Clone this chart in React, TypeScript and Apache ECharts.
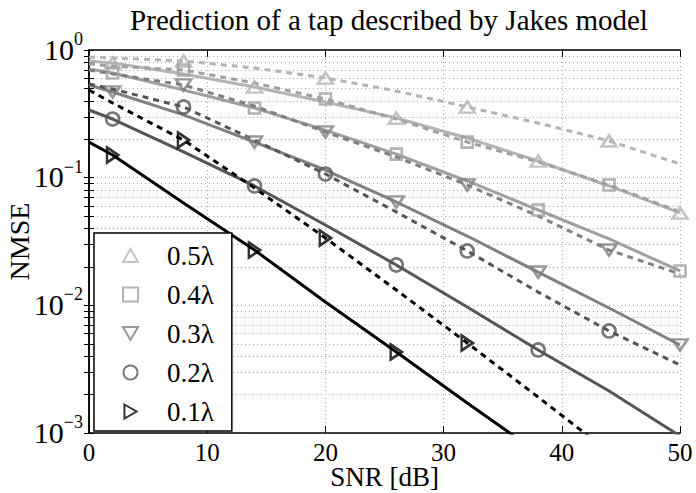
import React, { useEffect, useRef } from 'react';
import * as echarts from 'echarts';

// ---- data ----
const snr = [0, 2, 8, 14, 20, 26, 32, 38, 44, 50];
const solidMarkerSnr = [2, 14, 26, 38, 50];
const dashedMarkerSnr = [8, 20, 32, 44];

const seriesNames = ['0.5λ', '0.4λ', '0.3λ', '0.2λ', '0.1λ'];

const solid05 = [0.82, 0.791, 0.649, 0.513, 0.391, 0.293, 0.2045, 0.135, 0.0861, 0.0529];
const dashed05 = [0.882, 0.866, 0.82, 0.723, 0.604, 0.477, 0.358, 0.268, 0.194, 0.128];
const solid04 = [0.71, 0.66, 0.486, 0.351, 0.236, 0.153, 0.0942, 0.0558, 0.0331, 0.0186];
const dashed04 = [0.777, 0.749, 0.697, 0.551, 0.413, 0.288, 0.19, 0.1327, 0.0876, 0.0539];
const solid03 = [0.532, 0.469, 0.31, 0.19, 0.1148, 0.0645, 0.0349, 0.0182, 0.00953, 0.00489];
const dashed03 = [0.697, 0.649, 0.532, 0.364, 0.228, 0.145, 0.0876, 0.0501, 0.0271, 0.0176];
const solid02 = [0.339, 0.288, 0.159, 0.0861, 0.0426, 0.0207, 0.00971, 0.00447, 0.00213, 0.000948];
const dashed02 = [0.542, 0.495, 0.358, 0.197, 0.1068, 0.0539, 0.0267, 0.0127, 0.0063, 0.00341];
const solid01 = [0.19, 0.1505, 0.0633, 0.0271, 0.01062, 0.00431, 0.00172, 0.000697];
const dashed01 = [0.486, 0.3845, 0.197, 0.083, 0.0337, 0.01319, 0.00507, 0.00191, 0.00071];

const xTickValues = [0, 10, 20, 30, 40, 50];
const yLabelValues = [0.001, 0.01, 0.1, 1];
const yTickValues = [
  0.001, 0.002, 0.003, 0.004, 0.005, 0.006, 0.007, 0.008, 0.009,
  0.01, 0.02, 0.03, 0.04, 0.05, 0.06, 0.07, 0.08, 0.09,
  0.1, 0.2, 0.3, 0.4, 0.5, 0.6, 0.7, 0.8, 0.9, 1,
];

// ---- styles ----
const FONT = '"Liberation Serif", "DejaVu Serif", serif';
const colors = ['#b4b4b4', '#a0a0a0', '#808080', '#555555', '#000000'];
const TRI_UP = 'path://M0,13L7.5,0L15,13Z';
const TRI_DOWN = 'path://M0,0L15,0L7.5,13Z';
const TRI_RIGHT = 'path://M0,0L13,7.5L0,15Z';
const symbols = [TRI_UP, 'rect', TRI_DOWN, 'circle', TRI_RIGHT];
const sizes: any[] = [[15, 13], 11, [15, 13], 13, [13, 15]];

const groups = [
  { solid: solid05, dashed: dashed05 },
  { solid: solid04, dashed: dashed04 },
  { solid: solid03, dashed: dashed03 },
  { solid: solid02, dashed: dashed02 },
  { solid: solid01, dashed: dashed01 },
];

const Y_MIN = 0.001;
const Y_MAX = 1;

function buildOption() {
  const series: any[] = [];
  groups.forEach((g, i) => {
    series.push({
      type: 'line',
      name: seriesNames[i] + ' (a)',
      data: g.solid.map((v, k) => [snr[k], v]),
      symbol: 'none',
      showSymbol: false,
      silent: true,
      color: colors[i],
      lineStyle: { color: colors[i], width: 3, type: 'solid' },
      z: 2,
    });
    series.push({
      type: 'line',
      name: seriesNames[i] + ' (b)',
      data: g.dashed.map((v, k) => [snr[k], v]),
      symbol: 'none',
      showSymbol: false,
      silent: true,
      color: colors[i],
      lineStyle: { color: colors[i], width: 3, type: [6, 5], cap: 'butt' },
      z: 2,
    });
  });
  groups.forEach((g, i) => {
    const pts: number[][] = [];
    solidMarkerSnr.forEach((x) => {
      const k = snr.indexOf(x);
      const v = g.solid[k];
      if (v !== undefined && v >= Y_MIN) pts.push([x, v]);
    });
    dashedMarkerSnr.forEach((x) => {
      const k = snr.indexOf(x);
      const v = g.dashed[k];
      if (v !== undefined && v >= Y_MIN) pts.push([x, v]);
    });
    series.push({
      type: 'scatter',
      name: seriesNames[i],
      data: pts,
      symbol: symbols[i],
      symbolSize: sizes[i],
      symbolKeepAspect: true,
      clip: false,
      silent: true,
      color: colors[i],
      itemStyle: { color: 'rgba(255,255,255,0)', borderColor: colors[i], borderWidth: 2.6 },
      z: 3,
    });
  });

  const splitStyle = { show: true, lineStyle: { color: '#a8a8a8', width: 1, type: [1, 3] } };
  const axisLineStyle = { show: true, lineStyle: { color: '#000', width: 1.5 } };

  return {
    animation: false,
    backgroundColor: '#fff',
    title: {
      text: 'Prediction of a tap described by Jakes model',
      left: 384,
      textAlign: 'center',
      top: 0,
      textStyle: { fontFamily: FONT, fontSize: 29, fontWeight: 'normal', color: '#000' },
    },
    grid: { left: 89, right: 16, top: 50, bottom: 60, containLabel: false, outerBoundsMode: 'none' },
    legend: {
      data: seriesNames,
      orient: 'vertical',
      left: 94,
      top: 233,
      itemWidth: 15,
      itemHeight: 14,
      itemGap: 12,
      padding: [9, 18, 6, 28],
      backgroundColor: '#fff',
      borderColor: '#000',
      borderWidth: 1.5,
      borderRadius: 0,
      selectedMode: false,
      textStyle: { fontFamily: FONT, fontSize: 27, lineHeight: 26, color: '#000', padding: [0, 0, 0, 24] },
    },
    xAxis: [
      {
        type: 'value',
        min: 0,
        max: 50,
        interval: 10,
        position: 'bottom',
        name: 'SNR [dB]',
        nameLocation: 'middle',
        nameGap: 34,
        nameMoveOverlap: false,
        nameTextStyle: { fontFamily: FONT, fontSize: 27, lineHeight: 20, color: '#000' },
        axisLine: axisLineStyle,
        axisTick: { show: true, inside: true, length: 7, customValues: xTickValues, lineStyle: { color: '#000', width: 1 } },
        axisLabel: { margin: 10, fontFamily: FONT, fontSize: 25, lineHeight: 18, color: '#000', customValues: xTickValues },
        splitLine: splitStyle,
      },
      {
        type: 'value',
        min: 0,
        max: 50,
        interval: 10,
        position: 'top',
        axisLine: axisLineStyle,
        axisTick: { show: true, inside: true, length: 7, lineStyle: { color: '#000', width: 1 } },
        axisLabel: { show: false },
        splitLine: { show: false },
      },
    ],
    yAxis: [
      {
        type: 'log',
        logBase: 10,
        min: Y_MIN,
        max: Y_MAX,
        position: 'left',
        name: 'NMSE',
        nameLocation: 'middle',
        nameGap: 56,
        nameMoveOverlap: false,
        nameRotate: 90,
        nameTextStyle: { fontFamily: FONT, fontSize: 28, color: '#000' },
        axisLine: axisLineStyle,
        axisTick: { show: true, inside: true, length: 5, customValues: yTickValues, lineStyle: { color: '#000', width: 1 } },
        axisLabel: {
          margin: 6,
          customValues: yLabelValues,
          formatter: (v: number) => {
            const e = Math.round(Math.log10(v));
            const s = e < 0 ? '\u2212' + Math.abs(e) : String(e);
            return '{b|10}{s|' + s + '}';
          },
          rich: {
            b: { fontFamily: FONT, fontSize: 30, color: '#000', verticalAlign: 'bottom', lineHeight: 28 },
            s: { fontFamily: FONT, fontSize: 18, color: '#000', verticalAlign: 'bottom', lineHeight: 18, padding: [0, 0, 16, 0] },
          },
        },
        splitLine: splitStyle,
      },
      {
        type: 'log',
        logBase: 10,
        min: Y_MIN,
        max: Y_MAX,
        position: 'right',
        axisLine: axisLineStyle,
        axisTick: { show: true, inside: true, length: 5, customValues: yTickValues, lineStyle: { color: '#000', width: 1 } },
        axisLabel: { show: false },
        splitLine: { show: false },
      },
    ],
    series,
  };
}

export default function App() {
  const ref = useRef<HTMLDivElement>(null);
  useEffect(() => {
    if (!ref.current) return;
    const chart = echarts.init(ref.current, null, { renderer: 'svg' });
    chart.setOption(buildOption() as any);
    return () => chart.dispose();
  }, []);
  return (
    <div
      ref={ref}
      style={{ position: 'absolute', left: 0, top: 0, width: 696, height: 493, background: '#fff' }}
    />
  );
}
